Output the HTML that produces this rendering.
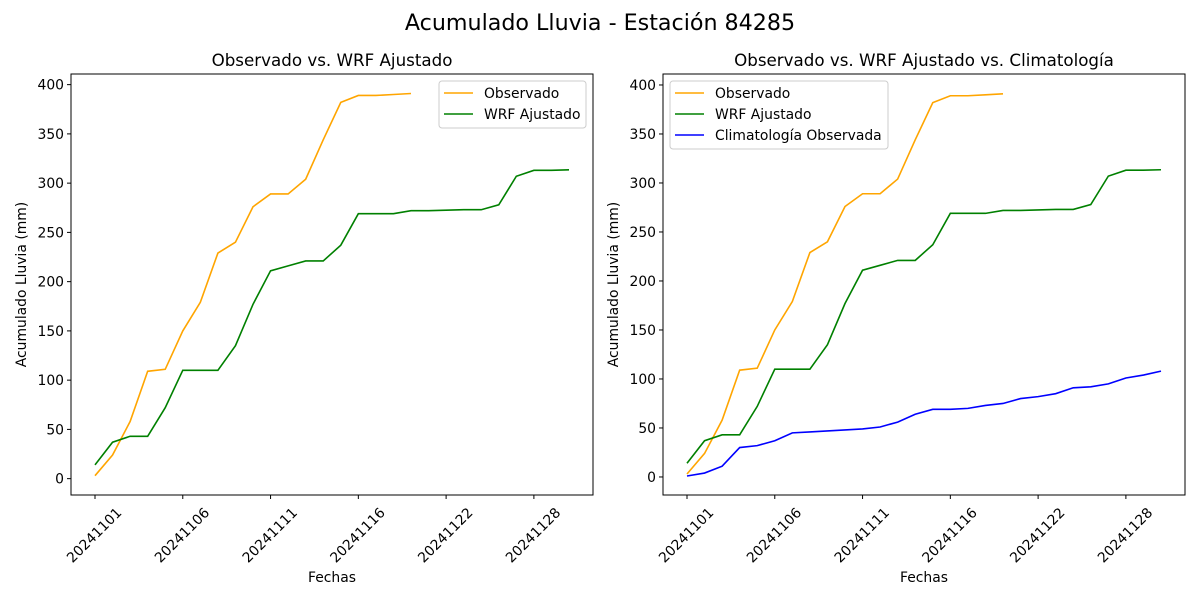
<!DOCTYPE html>
<html><head><meta charset="utf-8"><style>
body{margin:0;background:#fff;}
svg{font-family:"DejaVu Sans","Liberation Sans",sans-serif;}
</style></head><body>
<svg id="chart" width="1200" height="600" xmlns="http://www.w3.org/2000/svg">
<rect width="1200" height="600" fill="#fff"/>
<text x="600" y="30" font-size="22.2" text-anchor="middle">Acumulado Lluvia - Estación 84285</text>
</svg>
<script>
const dateLabels=["20241101","20241106","20241111","20241116","20241122","20241128"];
const dateTickIdx=[0,5,10,15,20,25];
const yTicks=[0,50,100,150,200,250,300,350,400];
const observed=[3,24,58,109,111,150,179,229,240,276,289,289,304,344,382,389,389,390,391];
const wrf=[14,37,43,43,72,110,110,110,135,177,211,216,221,221,237,269,269,269,272,272,272.5,273,273,278,307,313,313,313.5];
const clim=[1,4,11,30,32,37,45,46,47,48,49,51,56,64,69,69,70,73,75,80,82,85,91,92,95,101,104,108];
const svg=document.getElementById('chart');
const NS='http://www.w3.org/2000/svg';
function mk(tag,attrs,parent){const e=document.createElementNS(NS,tag);for(const k in attrs)e.setAttribute(k,attrs[k]);(parent||svg).appendChild(e);return e;}
function panel(L,R,T,B,ymin,ymax,title,series,legendBox,prefix){
  const g=mk('g',{});
  
  
  const x0=L+24,x1=R-24;
  const xs=i=>x0+(x1-x0)*i/27;
  const ys=v=>B-(v-ymin)/(ymax-ymin)*(B-T);
  const t=mk('text',{x:(L+R)/2,y:T-8,'font-size':16.7,'text-anchor':'middle'},g);t.textContent=title;
  
  
  yTicks.forEach(v=>{const y=ys(v);mk('line',{x1:L-4,x2:L,y1:y,y2:y,stroke:'#000'},g);
    const tt=mk('text',{x:L-7,y:y+5,'font-size':13.9,'text-anchor':'end'},g);tt.textContent=v;
    
    });
  dateTickIdx.forEach((idx,k)=>{const x=xs(idx);mk('line',{x1:x,x2:x,y1:B,y2:B+4,stroke:'#000'},g);
    const cx=x-1,cy=B+40;
    const tt=mk('text',{x:cx,y:cy+5,'font-size':13.9,'text-anchor':'middle',transform:`rotate(-45 ${cx} ${cy})`},g);tt.textContent=dateLabels[k];
    
    });
  series.forEach(s=>{const p=mk('polyline',{points:s.d.map((v,i)=>xs(i)+','+ys(v)).join(' '),fill:'none',stroke:s.c,'stroke-width':1.6},g);
    
    });
  mk('rect',{x:L,y:T,width:R-L,height:B-T,fill:'none',stroke:'#000','stroke-width':1},g);
  const yl=mk('text',{x:0,y:0,'font-size':13.9,'text-anchor':'middle',transform:`translate(${L-45},${(T+B)/2}) rotate(-90)`},g);yl.textContent='Acumulado Lluvia (mm)';
  
  
  const xl=mk('text',{x:(L+R)/2,y:582,'font-size':13.9,'text-anchor':'middle'},g);xl.textContent='Fechas';
  
  
  const lg=mk('g',{},g);
  
  
  mk('rect',{x:legendBox[0],y:legendBox[1],width:legendBox[2],height:series.length*21+5,rx:3,fill:'#fff',stroke:'#ccc'},lg);
  series.forEach((s,i)=>{const y=legendBox[1]+12+i*21;
    mk('line',{x1:legendBox[0]+5,x2:legendBox[0]+34,y1:y,y2:y,stroke:s.c,'stroke-width':1.6},lg);
    const lt=mk('text',{x:legendBox[0]+45,y:y+5,'font-size':13.9},lg);lt.textContent=s.l;
    
    });
}
panel(71,593,74,495,-16.6,410.8,'Observado vs. WRF Ajustado',
 [{d:observed,c:'orange',l:'Observado',n:'observed-line'},{d:wrf,c:'green',l:'WRF Ajustado',n:'wrf-line'}],[439,81,147],'left');
panel(663,1185,74,495,-18.4,411.2,'Observado vs. WRF Ajustado vs. Climatología',
 [{d:observed,c:'orange',l:'Observado',n:'observed-line'},{d:wrf,c:'green',l:'WRF Ajustado',n:'wrf-line'},{d:clim,c:'blue',l:'Climatología Observada',n:'climatology-line'}],[670,81,218],'right');
</script>
</body></html>
